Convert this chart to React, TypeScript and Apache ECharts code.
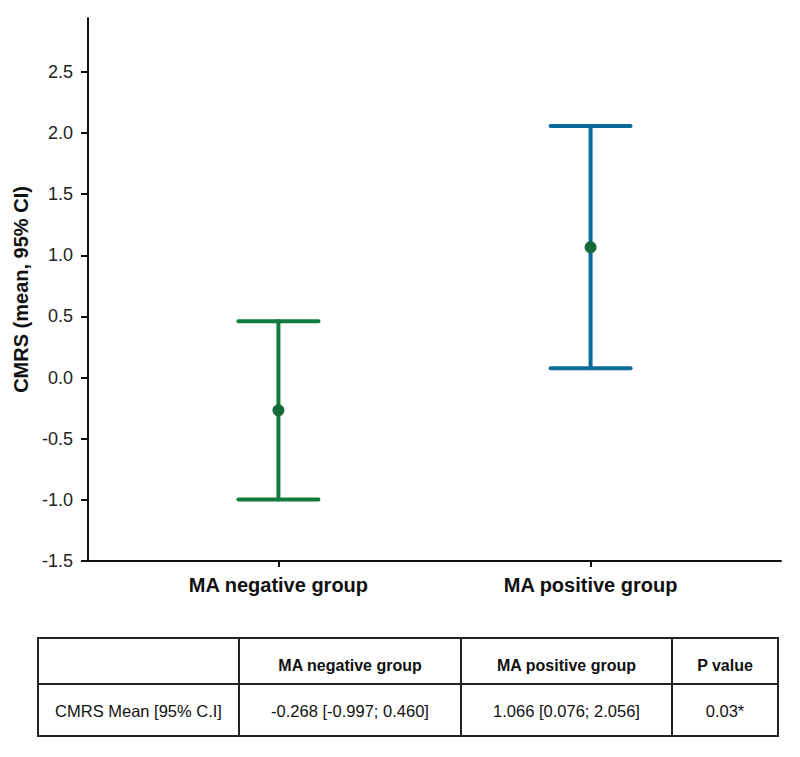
import React, { useEffect, useRef } from "react";
import * as echarts from "echarts";

const categories = ["MA negative group", "MA positive group"];
const means = [-0.268, 1.066];
const lowers = [-0.997, 0.076];
const uppers = [0.46, 2.056];
const barColors = ["#137a3e", "#0a6a9b"];
const yTicks = [-1.5, -1.0, -0.5, 0.0, 0.5, 1.0, 1.5, 2.0, 2.5];
const tableHeader = ["", "MA negative group", "MA positive group", "P value"];
const tableRow = ["CMRS Mean [95% C.I]", "-0.268 [-0.997; 0.460]", "1.066 [0.076; 2.056]", "0.03*"];

const FONT = "'Liberation Sans', Arial, sans-serif";

export default function App() {
  const ref = useRef<HTMLDivElement>(null);
  useEffect(() => {
    if (!ref.current) return;
    const chart = echarts.init(ref.current, null, { renderer: "svg" });

    const errData = categories.map((_, i) => [i + 1, lowers[i], uppers[i], i]);
    const meanData = categories.map((_, i) => [i + 1, means[i]]);

    // table geometry
    const tx0 = 38, tx1 = 778, ty0 = 638, ty1 = 736, tyMid = 684;
    const cols = [38, 239, 461, 672, 778];
    const graphics: any[] = [];
    graphics.push({
      type: "rect",
      shape: { x: tx0, y: ty0, width: tx1 - tx0, height: ty1 - ty0 },
      style: { fill: "#fff", stroke: "#222", lineWidth: 2 },
    });
    graphics.push({
      type: "line",
      shape: { x1: tx0, y1: tyMid, x2: tx1, y2: tyMid },
      style: { stroke: "#222", lineWidth: 2 },
    });
    for (let c = 1; c < cols.length - 1; c++) {
      graphics.push({
        type: "line",
        shape: { x1: cols[c], y1: ty0, x2: cols[c], y2: ty1 },
        style: { stroke: "#222", lineWidth: 2 },
      });
    }
    for (let c = 0; c < 4; c++) {
      const cx = (cols[c] + cols[c + 1]) / 2;
      if (tableHeader[c]) {
        graphics.push({
          type: "text",
          x: cx,
          y: (ty0 + tyMid) / 2 + 4,
          style: {
            text: tableHeader[c],
            align: "center",
            verticalAlign: "middle",
            font: `bold 16px ${FONT}`,
            fill: "#111",
          },
        });
      }
      graphics.push({
        type: "text",
        x: cx,
        y: (tyMid + ty1) / 2 + 1,
        style: {
          text: tableRow[c],
          align: "center",
          verticalAlign: "middle",
          font: `16.5px ${FONT}`,
          fill: "#111",
        },
      });
    }

    chart.setOption({
      animation: false,
      backgroundColor: "#fff",
      grid: { left: 88, top: 18, width: 693, height: 543, outerBoundsMode: "none", containLabel: false },
      xAxis: {
        type: "value",
        min: 0.39,
        max: 2.61,
        splitLine: { show: false },
        axisLine: { onZero: false, lineStyle: { color: "#111", width: 2 } },
        axisTick: { customValues: [1, 2], length: 6, lineStyle: { color: "#111", width: 2 } },
        axisLabel: {
          customValues: [1, 2],
          formatter: (v: number) => categories[Math.round(v) - 1] ?? "",
          fontFamily: FONT,
          fontSize: 20,
          fontWeight: "bold",
          color: "#111",
          margin: 14,
        },
      },
      yAxis: {
        type: "value",
        min: -1.5,
        max: 2.94,
        name: "CMRS (mean, 95% CI)",
        nameLocation: "middle",
        nameGap: 55,
        nameRotate: 90,
        nameTextStyle: { fontFamily: FONT, fontSize: 20, fontWeight: "bold", color: "#111" },
        splitLine: { show: false },
        axisLine: { show: true, onZero: false, lineStyle: { color: "#111", width: 2 } },
        axisTick: { show: true, customValues: yTicks, length: 7, lineStyle: { color: "#111", width: 2 } },
        axisLabel: {
          customValues: yTicks,
          formatter: (v: number) => v.toFixed(1),
          fontFamily: FONT,
          fontSize: 18,
          color: "#222",
          margin: 15,
        },
      },
      series: [
        {
          type: "custom",
          data: errData,
          renderItem: (params: any, api: any) => {
            const x = api.value(0);
            const lo = api.coord([x, api.value(1)]);
            const hi = api.coord([x, api.value(2)]);
            const color = barColors[api.value(3)];
            const hw = 40;
            const style = { stroke: color, lineWidth: 4, lineCap: "round" };
            return {
              type: "group",
              children: [
                { type: "line", shape: { x1: lo[0], y1: lo[1], x2: hi[0], y2: hi[1] }, style },
                { type: "line", shape: { x1: lo[0] - hw, y1: lo[1], x2: lo[0] + hw, y2: lo[1] }, style },
                { type: "line", shape: { x1: hi[0] - hw, y1: hi[1], x2: hi[0] + hw, y2: hi[1] }, style },
              ],
            };
          },
          z: 2,
        },
        {
          type: "scatter",
          data: meanData,
          symbol: "circle",
          symbolSize: 12,
          itemStyle: { color: "#146a38", opacity: 1 },
          z: 3,
        },
      ],
      graphic: graphics,
    });
    return () => chart.dispose();
  }, []);
  return (
    <div
      ref={ref}
      style={{ position: "absolute", left: 0, top: 0, width: 800, height: 757 }}
    />
  );
}
